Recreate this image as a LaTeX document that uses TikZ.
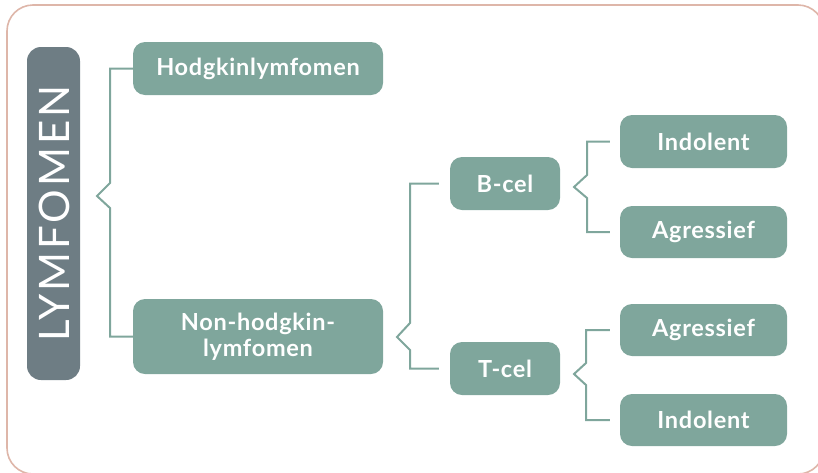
\documentclass[tikz,border=0pt]{standalone}
\usepackage{fontspec}
\setmainfont{Lato}
\usetikzlibrary{calc}
\definecolor{boxgreen}{HTML}{7FA69C}
\definecolor{titlegray}{HTML}{6E7D84}
\definecolor{framepink}{HTML}{DEB6A9}
\tikzset{
  catbox/.style={fill=boxgreen, rounded corners=12pt, text=white, font=\bfseries\fontsize{23.5}{26}\selectfont\addfontfeatures{LetterSpace=3}, align=center, inner sep=0pt},
  conn/.style={draw=boxgreen, line width=2pt, line join=miter},
}
\begin{document}
\begin{tikzpicture}[x=1pt,y=-1pt]
\useasboundingbox (0,0) rectangle (818,472);
\draw[framepink, line width=1.6pt, rounded corners=26pt] (7,5) rectangle (824,474);
\node[fill=titlegray, rounded corners=14pt, minimum width=53pt, minimum height=333pt, inner sep=0pt] (title) at (53.5,213.5) {};
\node[rotate=90, text=white, font=\fontsize{42}{46}\selectfont\addfontfeatures{LetterSpace=7}] (titletext) at ([xshift=1pt]title.center) {LYMFOMEN};
\node[catbox, minimum width=250pt, minimum height=53pt] (hod) at (258,68.5) {Hodgkinlymfomen};
\node[catbox, minimum width=250pt, minimum height=75pt] (nhl) at (258,336.5) {Non-hodgkin-\\lymfomen};
\node[catbox, minimum width=110pt, minimum height=53pt] (bcel) at (505,183.5) {B-cel};
\node[catbox, minimum width=110pt, minimum height=53pt] (tcel) at (505,368.5) {T-cel};
\node[catbox, minimum width=167pt, minimum height=53pt] (ind1) at (703.5,141.5) {Indolent};
\node[catbox, minimum width=167pt, minimum height=52pt] (agr1) at (703.5,232) {Agressief};
\node[catbox, minimum width=167pt, minimum height=52pt] (agr2) at (703.5,330) {Agressief};
\node[catbox, minimum width=167pt, minimum height=52pt] (ind2) at (703.5,420) {Indolent};
\draw[conn] (hod.west) -| (110,183) -- (97,196) -- (110,208) |- (nhl.west);
\draw[conn] ([xshift=-11pt]bcel.west) -| (410,323) -- (397,337) -- (410,350) |- ([xshift=-11pt]tcel.west);
\draw[conn] ([xshift=-10pt]ind1.west) -| (587,175) -- (574,187) -- (587,198) |- ([xshift=-10pt]agr1.west);
\draw[conn] ([xshift=-10pt]agr2.west) -| (586,363) -- (574,374) -- (586,385) |- ([xshift=-10pt]ind2.west);
\end{tikzpicture}
\end{document}
